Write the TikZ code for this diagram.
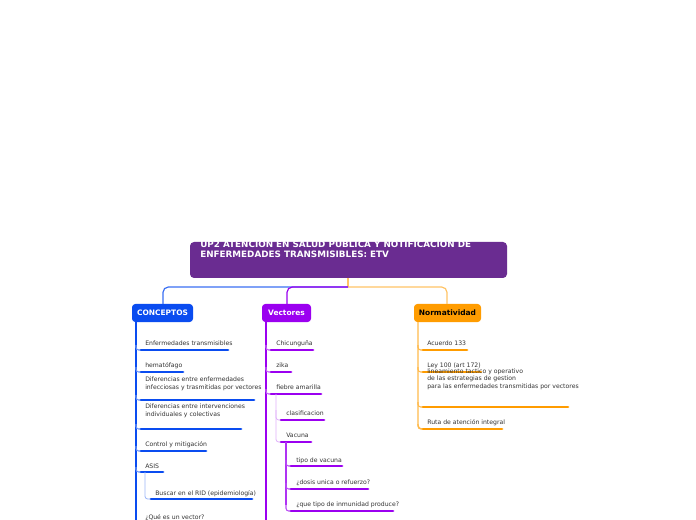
\documentclass[tikz,border=0pt]{standalone}
\usepackage{fontspec}
\setmainfont{DejaVu Sans}
\definecolor{tpur}{HTML}{6A2C91}
\definecolor{cblue}{HTML}{0A4CF0}
\definecolor{cpur}{HTML}{9B00F0}
\definecolor{corg}{HTML}{FF9C00}
\definecolor{ctxt}{HTML}{333333}
\begin{document}
\begin{tikzpicture}[x=0.75pt,y=-0.75pt,
  item/.style={anchor=base west,inner sep=0pt,font=\fontsize{4.6}{5.4}\selectfont,text=ctxt,align=left},
  ul/.style={line width=2.2pt,line cap=round},
  br/.style={line width=0.8pt,rounded corners=2pt},
  hdr/.style={rounded corners=2.5pt,inner sep=0pt,font=\bfseries\fontsize{5.6}{6.5}\selectfont}]
\useasboundingbox (0,0) rectangle (696,520);
\fill[white] (0,0) rectangle (696,520);
% title
\fill[tpur,rounded corners=3pt] (190,242) rectangle (507,278);
\node[anchor=base west,inner sep=0pt,text=white,font=\bfseries\fontsize{6.6}{8.2}\selectfont,align=left] (title) at (200,258) {UP2 ATENCIÓN EN SALUD PÚBLICA Y NOTIFICACIÓN DE\\ENFERMEDADES TRANSMISIBLES: ETV};
\coordinate (tb) at (348,278);
% headers
\fill[cblue,rounded corners=2.5pt] (132,304) rectangle (193,322);
\node[text=white,hdr] (conc) at (162.5,313) {CONCEPTOS};
\fill[cpur,rounded corners=2.5pt] (262,304) rectangle (311,322);
\node[text=white,hdr] (vect) at (286.5,313) {Vectores};
\fill[corg,rounded corners=2.5pt] (414,304) rectangle (481,322);
\node[text=black,hdr] (norm) at (447.5,313) {Normatividad};
% trunk connectors
\draw[line width=0.9pt,color=corg!60] (348,278) -- (348,287);
\draw[line width=0.9pt,cblue!80,rounded corners=4pt] (348,287) -- (163,287) -- (163,304);
\draw[line width=0.9pt,cpur,rounded corners=4pt] (348,287) -- (287,287) -- (287,304);
\draw[line width=0.9pt,corg!60,rounded corners=4pt] (348,287) -- (447,287) -- (447,304);
% verticals
\draw[cblue,line width=1.1pt] (136,322) -- (136,520);
\draw[cpur,line width=1.1pt] (266,322) -- (266,520);
\draw[corg!70,line width=0.8pt,rounded corners=3pt] (418,322) -- (418,429) -- (422,429);
% blue items
\foreach \tx/\ty/\uy/\ue/\t [count=\i] in {
 145/345/350/228/{Enfermedades transmisibles},
 145/367/372/183/{hematófago},
 145/389/400/254/{Diferencias entre enfermedades\\infecciosas y trasmitidas por vectores},
 145/416/429/241/{Diferencias entre intervenciones\\individuales y colectivas},
 145/446/451/206/{Control y mitigación},
 145/468/472/163/{ASIS}}{
 \node[item] (b\i) at (\tx,\ty) {\t};
 \draw[cblue!60,br] (136,\uy-5) |- (141,\uy);
 \draw[cblue,ul] (141,\uy) -- (\ue,\uy);
}
\node[item] (b7) at (155,495) {Buscar en el RID (epidemiología)};
\draw[cblue!40,line width=0.6pt,rounded corners=2pt] (145,472) |- (151,499);
\draw[cblue,ul] (151,499) -- (252,499);
\node[item] (b8) at (145,519) {¿Qué es un vector?};
% purple items
\foreach \tx/\ty/\uy/\us/\ue/\t [count=\i] in {
 276/345/350/271/313/{Chicunguña},
 276/367/372/271/291/{zika},
 276/389/394/271/321/{fiebre amarilla}}{
 \node[item] (p\i) at (\tx,\ty) {\t};
 \draw[cpur!60,br] (266,\uy-5) |- (\us,\uy);
 \draw[cpur,ul] (\us,\uy) -- (\ue,\uy);
}
\draw[cpur!30,line width=0.6pt,rounded corners=2pt] (276,394) |- (281,420);
\draw[cpur!30,line width=0.6pt,rounded corners=2pt] (276,410) |- (281,442);
\node[item] (p4) at (286,415) {clasificacion};
\draw[cpur,ul] (281,420) -- (324,420);
\node[item] (p5) at (286,437) {Vacuna};
\draw[cpur,ul] (281,442) -- (311,442);
\draw[cpur!80,line width=0.8pt] (286,442) -- (286,505);
\foreach \ty/\uy/\ue/\t [count=\i from 6] in {
 462/466/342/{tipo de vacuna},
 484/489/368/{¿dosis unica o refuerzo?},
 506/511/393/{¿que tipo de inmunidad produce?}}{
 \node[item] (p\i) at (296,\ty) {\t};
 \draw[cpur!70,br] (286,\uy-6) |- (291,\uy);
 \draw[cpur,ul] (291,\uy) -- (\ue,\uy);
}
% orange items
\foreach \ty/\uy/\ue/\t [count=\i] in {
 345/350/467/{Acuerdo 133},
 367/372/481/{Ley 100 (art 172)},
 388/407/568/{lineamiento tactico y operativo\\de las estrategias de gestion\\para las enfermedades transmitidas por vectores},
 424/429/502/{Ruta de atención integral}}{
 \node[item] (o\i) at (427,\ty) {\t};
 \draw[corg!70,br] (418,\uy-5) |- (423,\uy);
 \draw[corg,ul] (423,\uy) -- (\ue,\uy);
}
\end{tikzpicture}
\end{document}
